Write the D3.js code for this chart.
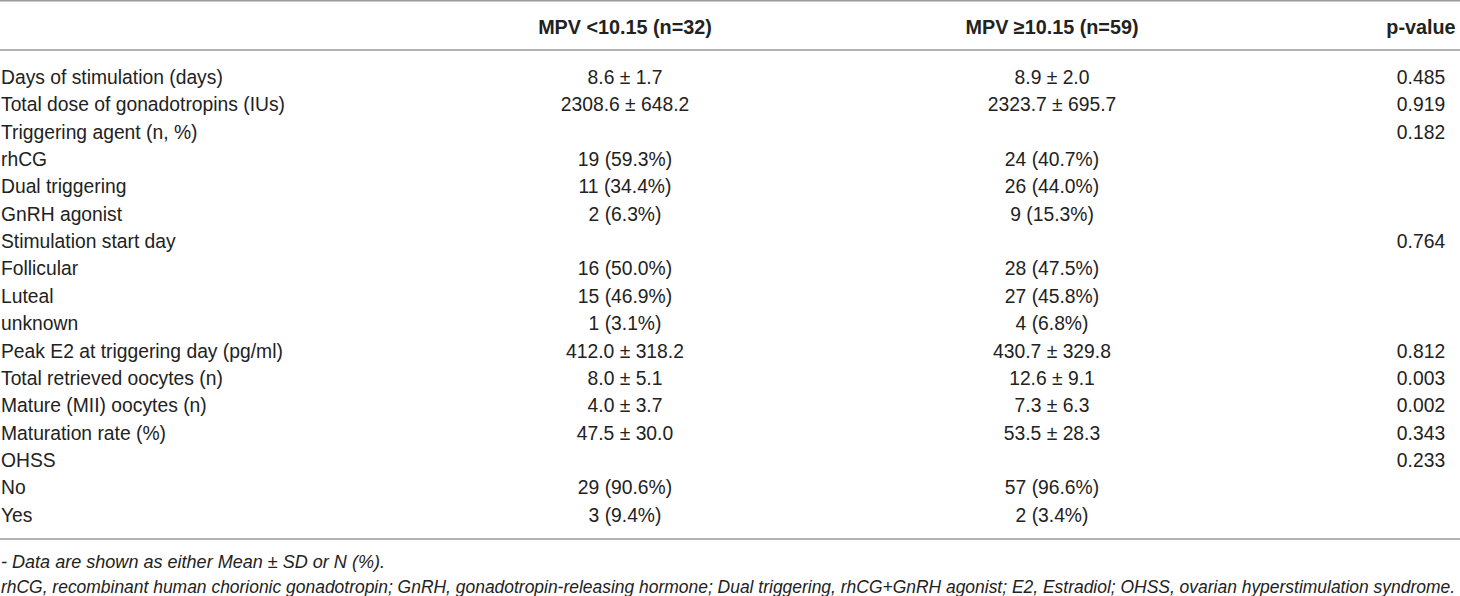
<!DOCTYPE html>
<html>
<head>
<meta charset="utf-8">
<script src="https://cdn.jsdelivr.net/npm/d3@7"></script>
<style>
  body { margin: 0; background: #fff; }
  text { font-family: "Liberation Sans", Arial, Helvetica, sans-serif; fill: #222; }
</style>
</head>
<body>
<div id="chart"></div>
<script>
// Table content
const headers = ["", "MPV <10.15 (n=32)", "MPV \u226510.15 (n=59)", "p-value"];

const rowLabels = [
  "Days of stimulation (days)",
  "Total dose of gonadotropins (IUs)",
  "Triggering agent (n, %)",
  "rhCG",
  "Dual triggering",
  "GnRH agonist",
  "Stimulation start day",
  "Follicular",
  "Luteal",
  "unknown",
  "Peak E2 at triggering day (pg/ml)",
  "Total retrieved oocytes (n)",
  "Mature (MII) oocytes (n)",
  "Maturation rate (%)",
  "OHSS",
  "No",
  "Yes"
];

const lowMpv = [
  "8.6 \u00b1 1.7", "2308.6 \u00b1 648.2", "", "19 (59.3%)", "11 (34.4%)", "2 (6.3%)",
  "", "16 (50.0%)", "15 (46.9%)", "1 (3.1%)", "412.0 \u00b1 318.2", "8.0 \u00b1 5.1",
  "4.0 \u00b1 3.7", "47.5 \u00b1 30.0", "", "29 (90.6%)", "3 (9.4%)"
];

const highMpv = [
  "8.9 \u00b1 2.0", "2323.7 \u00b1 695.7", "", "24 (40.7%)", "26 (44.0%)", "9 (15.3%)",
  "", "28 (47.5%)", "27 (45.8%)", "4 (6.8%)", "430.7 \u00b1 329.8", "12.6 \u00b1 9.1",
  "7.3 \u00b1 6.3", "53.5 \u00b1 28.3", "", "57 (96.6%)", "2 (3.4%)"
];

const pValues = [
  "0.485", "0.919", "0.182", "", "", "", "0.764", "", "", "", "0.812", "0.003",
  "0.002", "0.343", "0.233", "", ""
];

const footnotes = [
  "- Data are shown as either Mean \u00b1 SD or N (%).",
  "rhCG, recombinant human chorionic gonadotropin; GnRH, gonadotropin-releasing hormone; Dual triggering, rhCG+GnRH agonist; E2, Estradiol; OHSS, ovarian hyperstimulation syndrome."
];

const width = 1460;
const height = 596;

const svg = d3.select("#chart")
  .append("svg")
  .attr("width", width)
  .attr("height", height);

// column positions (x of anchor) and row positions
const colX = d3.scaleOrdinal()
  .domain([0, 1, 2, 3])
  .range([1, 625, 1052, 1421]);

const rowY = d3.scalePoint()
  .domain(d3.range(rowLabels.length))
  .range([77, 515]);

const ruleColor = "#9b9b9b";
[0.75, 50, 539].forEach(y => {
  svg.append("line")
    .attr("x1", 0).attr("x2", width)
    .attr("y1", y).attr("y2", y)
    .attr("stroke", ruleColor)
    .attr("stroke-width", 1.5);
});

// header
svg.append("g")
  .selectAll("text")
  .data(headers)
  .join("text")
  .attr("x", (d, i) => colX(i))
  .attr("y", 27)
  .attr("dy", "0.35em")
  .attr("text-anchor", (d, i) => i === 0 ? "start" : "middle")
  .style("font-size", "19.8px")
  .style("font-weight", "bold")
  .text(d => d);

// body rows
const rows = rowLabels.map((label, i) => [label, lowMpv[i], highMpv[i], pValues[i]]);

const rowG = svg.append("g")
  .selectAll("g")
  .data(rows)
  .join("g")
  .attr("transform", (d, i) => `translate(0, ${rowY(i)})`);

rowG.selectAll("text")
  .data(d => d)
  .join("text")
  .attr("x", (d, i) => colX(i))
  .attr("dy", "0.35em")
  .attr("text-anchor", (d, i) => i === 0 ? "start" : "middle")
  .style("font-size", "19.3px")
  .text(d => d);

// footnotes (condensed italic in the source, so fit each to its measured width)
const noteWidths = [384, 1454];
svg.append("g")
  .selectAll("text")
  .data(footnotes)
  .join("text")
  .attr("x", 1)
  .attr("y", (d, i) => 562 + i * 25)
  .attr("dy", "0.35em")
  .attr("textLength", (d, i) => noteWidths[i])
  .attr("lengthAdjust", "spacingAndGlyphs")
  .style("font-size", "17.5px")
  .style("font-style", "italic")
  .text(d => d);
</script>
</body>
</html>
